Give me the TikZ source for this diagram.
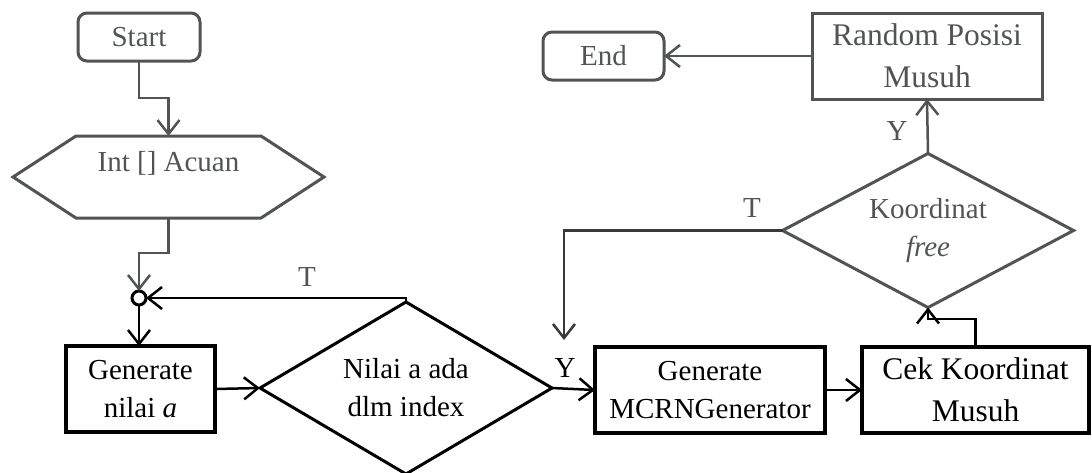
\documentclass[tikz,border=0pt]{standalone}
\usepackage{fontspec}
\setmainfont{Liberation Serif}
\usetikzlibrary{shapes.geometric,arrows.meta}
\definecolor{ink}{RGB}{80,85,82}
\definecolor{midink}{RGB}{55,58,56}
\begin{document}
\begin{tikzpicture}[x=1pt,y=-1pt,
  every node/.style={font=\fontsize{29}{38}\selectfont, inner sep=0pt, outer sep=0pt},
  termbox/.style={draw=ink, text=ink, line width=3pt, rounded corners=9pt,
    minimum width=#1, minimum height=48pt},
  procbox/.style={draw=black, line width=3.5pt, align=center,
    minimum width=#1, minimum height=86pt},
  bigtext/.style={font=\fontsize{31.5}{42}\selectfont},
  decision/.style={diamond, draw, line width=3pt, align=center},
  arr/.style={line width=2.5pt, -{Straight Barb[length=14pt,width=22pt]}},
  garr/.style={arr, draw=ink},
  lbl/.style={text=#1},
  lbl/.default=black]
\useasboundingbox (0,0) rectangle (1092,472);

% terminals
\node[termbox=122pt] (start) at (139,37) {Start};
\node[termbox=121pt] (end) at (603.5,56) {End};

% input hexagon
\node[minimum width=311pt, minimum height=82pt] (acuan) at (168.5,177) {};
\draw[ink, line width=3pt, line join=miter]
  (acuan.west) -- ([xshift=63pt]acuan.north west) -- ([xshift=-63pt]acuan.north east)
  -- (acuan.east) -- ([xshift=-63pt]acuan.south east) -- ([xshift=63pt]acuan.south west) -- cycle;
\node[text=ink] (acuantext) at (168.5,163) {Int [] Acuan};

% junction
\node[circle, draw, line width=3pt, fill=white, minimum size=14pt] (junc) at (139,298) {};

% process boxes
\node[procbox=149pt] (gen) at (140.5,389) {Generate\\nilai \textit{a}};
\node[procbox=230pt] (mcrn) at (710,390) {Generate\\MCRNGenerator};
\node[procbox=227pt, bigtext] (cek) at (975.5,390) {Cek Koordinat\\Musuh};
\node[procbox=230pt, bigtext, draw=ink, text=ink, line width=3pt] (rnd) at (927,56) {Random Posisi\\Musuh};

% decisions
\node[decision, aspect=1.7, minimum width=292pt, minimum height=172pt] (dlm) at (406,388)
  {Nilai a ada\\dlm index};
\node[decision, draw=ink, text=ink, aspect=1.89, minimum width=291pt, minimum height=154pt]
  (kor) at (928,230.5) {Koordinat\\\textit{free}};

% connectors
\draw[garr] (start.south) -- ++(0,37) -| (acuan.north);
\draw[garr] (acuan.south) -- ++(0,35) -| (junc.north);
\draw[arr] (dlm.north) |- (junc.east);
\draw[arr] (junc.south) -- (junc.south |- gen.north);
\draw[arr] (gen.east) -- (dlm.west);
\draw[arr] (dlm.east) -- (mcrn.west);
\draw[arr] (mcrn.east) -- (cek.west);
\draw[arr] (cek.north) -- ++(0,-28) -| (kor.south);
\draw[garr] (kor.north) -- (rnd.south);
\draw[garr] (rnd.west) -- (end.east);
\coordinate (drop) at (564,340);
\draw[arr, draw=midink] (kor.west) -| (drop);

% branch labels
\node[lbl=ink] (tleft) at (307,277) {T};
\node[lbl] (yleft) at (565,368) {Y};
\node[lbl=ink] (tright) at (752,208) {T};
\node[lbl=ink] (yright) at (897,131) {Y};
\end{tikzpicture}
\end{document}
